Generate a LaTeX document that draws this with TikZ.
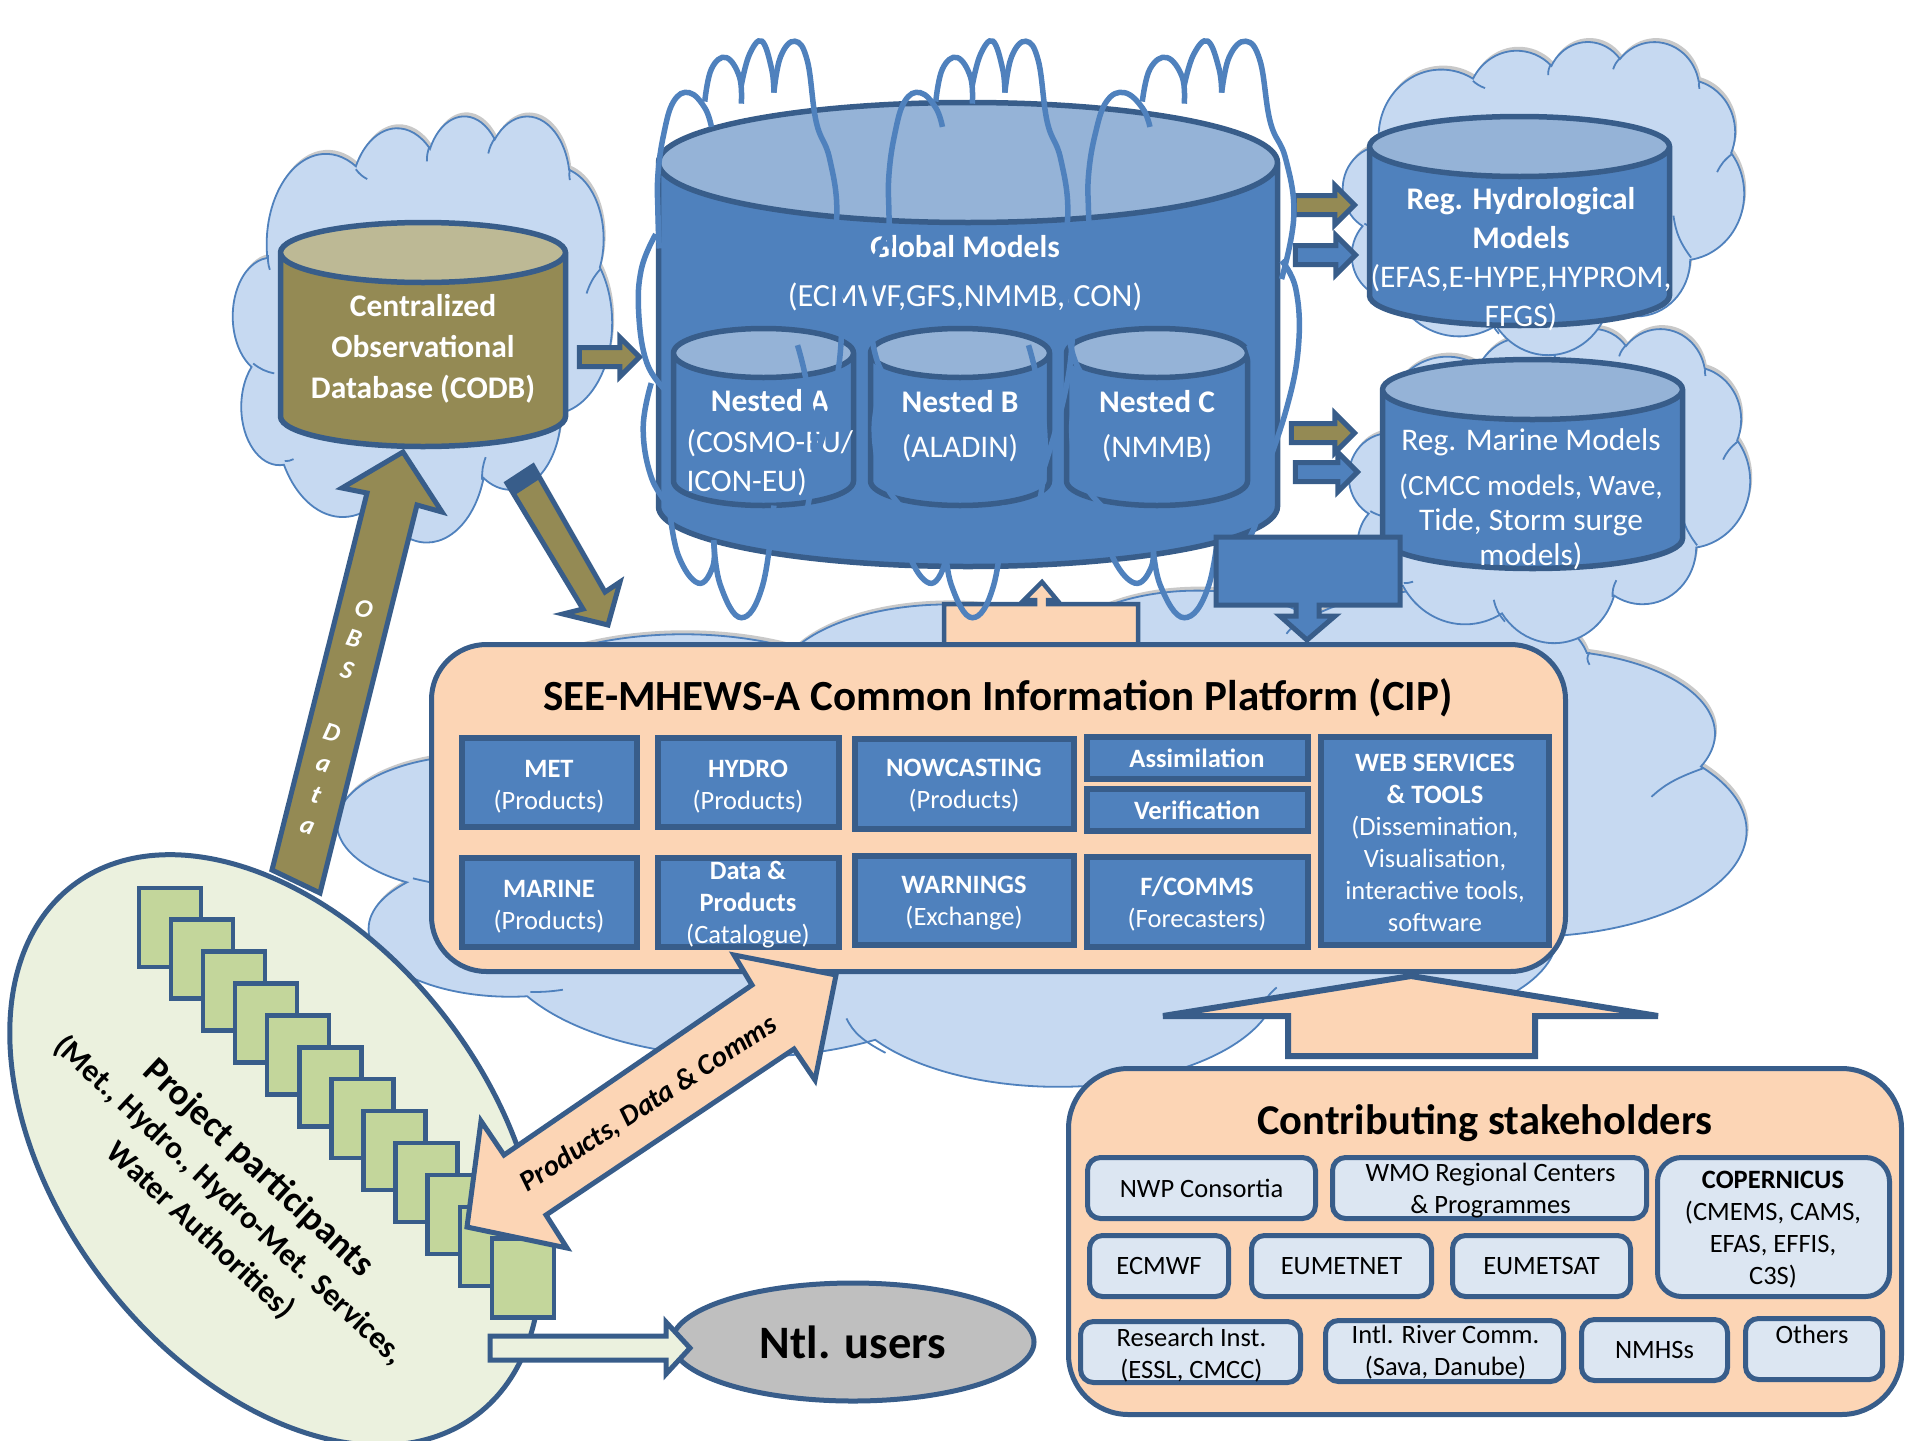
\documentclass[tikz,border=0pt]{standalone}
\usepackage{fontspec}
\setmainfont{Carlito}
\usetikzlibrary{positioning,shapes.geometric,shapes.arrows,shadows}

\definecolor{blueF}{HTML}{4F81BD}
\definecolor{blueL}{HTML}{385D8A}
\definecolor{blueT}{HTML}{95B3D7}
\definecolor{oliveF}{HTML}{948A54}
\definecolor{oliveT}{HTML}{BDB995}
\definecolor{cloudF}{HTML}{C6D9F1}
\definecolor{peachF}{HTML}{FCD5B5}
\definecolor{paleF}{HTML}{DCE6F2}
\definecolor{leafF}{HTML}{C3D69B}
\definecolor{paleG}{HTML}{EBF1DE}
\definecolor{greyF}{HTML}{BFBFBF}

\tikzset{
	cloudfill/.style={fill=cloudF,draw=blueF,line width=1.8pt,
		drop shadow={shadow xshift=2pt,shadow yshift=4pt,opacity=.3,fill=black!70}},
	crease/.style={draw=blueF,line width=1.8pt},
	dbcyl/.style={cylinder,shape border rotate=90,anchor=shape center,draw=blueL,line width=5.5pt,inner sep=10pt,
		cylinder uses custom fill,cylinder body fill=blueF,cylinder end fill=blueT},
	dbtext/.style={text=white,align=center,inner sep=0pt,font=\fontsize{31.5}{39}\selectfont},
	coilline/.style={draw=blueF,line width=5.5pt},
	blockarrow/.style={draw=blueL,line width=5pt,line join=miter,miter limit=10},
	smallarrow/.style={single arrow,draw=blueL,line width=5pt,inner sep=7pt,minimum width=34pt,
		single arrow head extend=10pt,anchor=tip},
	platform/.style={rectangle,rounded corners=#1,draw=blueL,line width=5pt,fill=peachF,inner sep=0pt},
	prodbox/.style={rectangle,draw=blueL,line width=6pt,fill=blueF,text=white,align=center,inner sep=0pt,
		font=\fontsize{26.5}{32}\selectfont},
	prodtext/.style={text=white,align=center,inner sep=0pt,font=\fontsize{26.5}{32}\selectfont},
	partybox/.style={rectangle,rounded corners=13pt,draw=blueL,line width=5pt,fill=paleF,align=center,inner sep=0pt,
		font=\fontsize{26.5}{32}\selectfont},
	partytext/.style={align=center,inner sep=0pt,font=\fontsize{26.5}{32}\selectfont},
	leaf/.style={rectangle,draw=blueL,line width=4.5pt,fill=leafF,minimum width=62pt,minimum height=79pt,anchor=north west}
}

% Pushes a block of lines down in its box
\newcommand{\pushdown}[1]{\rule{0pt}{#1pt}}

% Cloud outline in a 432 x 432 box: name, left, top, width, height
\newcommand{\cloudat}[5]{
	\begin{scope}[shift={(#2,#3)},xscale=#4/432,yscale=-#5/432]
		\path[cloudfill] (39pt,143.7pt)
			\foreach \rx/\ry/\sa/\da in {67.53/91.90/-190.49/123.78,53.33/72.67/-144.10/89.95,
				43.65/59.45/-145.81/99.72,48.57/65.95/-130.99/117.24,53.33/72.73/-78.71/109.03,
				67.75/92.20/-46.27/130.27,57.85/78.67/0.625/114.03,67.52/92.15/22.45/115.17,
				77.20/105.43/66.24/75.71,43.60/59.18/-274.94/146.74,43.45/59.45/-246.83/152.52}{
				arc[x radius=\rx pt,y radius=\ry pt,
					start angle={atan2(\rx*sin(\sa),\ry*cos(\sa))},
					delta angle={mod(atan2(\rx*sin(\sa+\da),\ry*cos(\sa+\da))-atan2(\rx*sin(\sa),\ry*cos(\sa))+720,360)}]
			} -- cycle;
		% Draw creases
		\foreach \ax/\ay/\bx/\by in {23/252/47/262,59/351/69/349,156/374/168/404,288/347/284/370,
			356/241/375/299,419/156/403/181,384/55/384/66,299/23/291/39,224/32/221/47,140/55/153/65,40/142/42/157}{
			\draw[crease] (\ax pt,\ay pt) to[bend left=12] (\bx pt,\by pt);
		}
		\coordinate (#1) at (216pt,216pt);
	\end{scope}
}

\begin{document}
\begin{tikzpicture}[x=1pt,y=-1pt]
	\useasboundingbox (0,0) rectangle (1905,1440);
	% Draw clouds
	\cloudat{cloudCip}{338}{589}{1408}{496}
	\cloudat{cloudCodb}{233}{115}{379}{426}
	\cloudat{cloudMarine}{1349}{328}{401}{314}
	\cloudat{cloudHydro}{1343}{41}{401}{313}

	% Draw observation arrow
	\draw[blockarrow,fill=oliveF] (403,452) -- (442,512) -- (417,505) -- (320,893) -- (272,870) -- (367,493) -- (342,488) -- cycle;
	\foreach \c/\x/\y in {O/364/609,B/354/639,S/347/670,D/332/733,a/323/765,t/316/795,a/307/827}{
		\node[text=white,inner sep=0pt,rotate=-17,font=\fontsize{26}{26}\selectfont\bfseries\itshape] at (\x,\y) {\c};
	}

	% Draw database cylinders
	\node[dbcyl,cylinder body fill=oliveF,cylinder end fill=oliveT,minimum width=285pt,minimum height=224pt,shape aspect=3] (codb) at (423,334.5) {};
	\node[dbcyl,minimum width=619pt,minimum height=464pt,shape aspect=6] (global) at (968,334.5) {};
	\node[dbtext] (codbText) at (423,349) {\textbf{Centralized}\\[2pt]\textbf{Observational}\\[2pt]\textbf{Database (CODB)}};
	\node[dbtext] (globalText) at (965,273) {\textbf{Global Models}\\[10pt]{\fontsize{32.3}{39}\selectfont (ECMWF,GFS,NMMB,ICON)}};
	\node[dbcyl,minimum width=180pt,minimum height=177pt,shape aspect=2.45] (nestA) at (763.5,417) {};
	\node[dbcyl,minimum width=179pt,minimum height=177pt,shape aspect=2.45] (nestB) at (960,417) {};
	\node[dbcyl,minimum width=181pt,minimum height=177pt,shape aspect=2.45] (nestC) at (1157,417) {};
	\node[dbcyl,minimum width=300pt,minimum height=209pt,shape aspect=3] (hydro) at (1519.5,221) {};
	\node[dbcyl,minimum width=300pt,minimum height=209pt,shape aspect=3] (marine) at (1532.5,464) {};
	\node[dbtext,align=left] (nestAtext) at (770,443) {\makebox[167pt]{\textbf{Nested A}}\\[2pt](COSMO-EU/\\ICON-EU)};
	\node[dbtext] (nestBtext) at (960,426) {\textbf{Nested B}\\[6pt](ALADIN)};
	\node[dbtext] (nestCtext) at (1157,426) {\textbf{Nested C}\\[6pt](NMMB)};
	\node[dbtext] (hydroText) at (1521,259) {\textbf{Reg. Hydrological}\\\textbf{Models}\\(EFAS,E-HYPE,HYPROM,\\FFGS)};
	\node[dbtext] (marineText) at (1531,499) {Reg. Marine Models\\[6pt]\fontsize{29.5}{39}\selectfont (CMCC models, Wave,\\[-4pt]Tide, Storm surge\\[-4pt]models)};

	% Draw small arrows
	\node[smallarrow,fill=oliveF,minimum height=60pt] (toGlobal) at (643,357) {};
	\node[smallarrow,fill=oliveF,minimum height=60pt] (toHydroA) at (1358,205) {};
	\node[smallarrow,fill=blueF,minimum height=60pt] (toHydroB) at (1359,255) {};
	\node[smallarrow,fill=oliveF,minimum height=63pt] (toMarineA) at (1358,433) {};
	\node[smallarrow,fill=blueF,minimum height=62pt] (toMarineB) at (1361,472) {};

	% Draw arrow from the database to the platform
	\draw[blockarrow,fill=oliveF] (507,483) -- (533,466) -- (605,592) -- (620,582) -- (608,625) -- (563,614) -- (583,609) -- cycle;
	\fill[blueL] (507,483) -- (533,466) -- (541,478) -- (515,495) -- cycle;

	% Draw small platform arrow
	\draw[blockarrow,line width=4.5pt,fill=peachF] (944,644) -- (944,604) -- (1035,604) -- (1035,600) -- (1024,600) -- (1042,582) -- (1057,600) -- (1048,600) -- (1048,604) -- (1138,604) -- (1138,644);

	% Draw coils
	\foreach \cx/\cw in {620/.446,851/.446,1045/.512}{
		\begin{scope}[shift={(\cx,20)},x=\cw pt,y=-.408pt]
			\draw[coilline] plot[smooth,tension=.7] coordinates {(205,262) (190,215) (155,178) (120,200) (98,280) (85,380) (85,470) (88,560)};
			\draw[coilline] plot[smooth,tension=.7] coordinates {(272,205) (268,140) (238,92) (205,120) (190,200)};
			\draw[coilline] plot[smooth,tension=.7] coordinates {(345,178) (340,120) (318,52) (290,85) (272,160)};
			\draw[coilline] plot[smooth,tension=.7] coordinates {(345,178) (360,90) (392,52) (420,100) (440,250) (470,340) (486,480) (462,635)};
			\draw[coilline] plot[smooth,tension=.7] coordinates {(80,525) (48,610) (42,720) (60,840) (100,905)};
			\draw[coilline] plot[smooth,tension=.7] coordinates {(70,890) (52,1000) (70,1120) (110,1190)};
			\draw[coilline] plot[smooth,tension=.7] coordinates {(110,1190) (130,1310) (175,1380) (208,1340) (210,1275)};
			\draw[coilline] plot[smooth,tension=.7] coordinates {(210,1275) (225,1385) (272,1465) (320,1385) (345,1190)};
			\draw[coilline] plot[smooth,tension=.7] coordinates {(345,1262) (370,1290) (410,1240) (435,1060) (420,900) (398,797)};
			\draw[coilline] plot[smooth,tension=.7] coordinates {(462,590) (490,660) (495,800) (470,960) (420,1140)};
		\end{scope}
	}

	% Draw blue down arrow
	\draw[blockarrow,fill=blueF] (1216,537) -- (1400,537) -- (1400,605) -- (1319,605) -- (1319,616) -- (1335,616) -- (1307,640) -- (1280,616) -- (1296,616) -- (1296,605) -- (1216,605) -- cycle;

	% Draw platform
	\node[platform=55pt,minimum width=1134pt,minimum height=327pt] (cip) at (998.5,808) {};
	\node[font=\fontsize{43}{43}\selectfont\bfseries,inner sep=0pt] (cipTitle) at (998,698) {SEE-MHEWS-A Common Information Platform (CIP)};
	\node[prodbox,minimum width=175pt,minimum height=89pt] (met) at (549,782) {\pushdown{27}\textbf{MET}\\(Products)};
	\node[prodbox,minimum width=181pt,minimum height=89pt] (hydroP) at (748,782) {\pushdown{27}\textbf{HYDRO}\\(Products)};
	\node[prodbox,minimum width=219pt,minimum height=90pt] (nowcast) at (964,783.5) {\pushdown{22}\textbf{NOWCASTING}\\(Products)};
	\node[prodbox,minimum width=221pt,minimum height=42pt] (assim) at (1197,758) {\textbf{Assimilation}};
	\node[prodbox,minimum width=221pt,minimum height=42pt] (verif) at (1197,810) {\textbf{Verification}};
	\node[prodbox,minimum width=228pt,minimum height=208pt] (web) at (1435,841) {\pushdown{22}\textbf{WEB SERVICES}\\\textbf{\& TOOLS}\\(Dissemination,\\Visualisation,\\interactive tools,\\software};
	\node[prodbox,minimum width=175pt,minimum height=89pt] (marineP) at (549,902) {\pushdown{26}\textbf{MARINE}\\(Products)};
	\node[prodbox,minimum width=181pt,minimum height=89pt] (dataP) at (748,902) {};
	\node[prodtext] (dataText) at (748,905) {\textbf{Data \&}\\\textbf{Products}\\(Catalogue)};
	\node[prodbox,minimum width=219pt,minimum height=89pt] (warn) at (964,900) {\pushdown{24}\textbf{WARNINGS}\\(Exchange)};
	\node[prodbox,minimum width=221pt,minimum height=90pt] (fcomms) at (1197,902) {\pushdown{23}\textbf{F/COMMS}\\(Forecasters)};

	% Draw big up arrow
	\draw[blockarrow,line width=6pt,fill=peachF] (1411,976) -- (1658,1016) -- (1535,1016) -- (1535,1056) -- (1288,1056) -- (1288,1016) -- (1163,1016) -- cycle;

	% Draw stakeholders
	\node[platform=60pt,minimum width=833pt,minimum height=346pt] (stake) at (1485,1241.5) {};
	\node[font=\fontsize{42.5}{42.5}\selectfont\bfseries,inner sep=0pt] (stakeTitle) at (1485,1123) {Contributing stakeholders};
	\node[partybox,minimum width=228pt,minimum height=61pt] (nwp) at (1201.5,1188) {NWP Consortia};
	\node[partybox,minimum width=314pt,minimum height=61pt] (wmo) at (1489.5,1188) {};
	\node[partytext] (wmoText) at (1490.5,1191) {WMO Regional Centers\\\& Programmes};
	\node[partybox,rounded corners=24pt,minimum width=232pt,minimum height=139pt] (copern) at (1773.5,1227) {};
	\node[partytext] (copernText) at (1773,1230) {\textbf{COPERNICUS}\\(CMEMS, CAMS,\\EFAS, EFFIS,\\C3S)};
	\node[partybox,minimum width=139pt,minimum height=61pt] (ecmwf) at (1159,1266) {ECMWF};
	\node[partybox,minimum width=180pt,minimum height=61pt] (eumetnet) at (1341.5,1266) {EUMETNET};
	\node[partybox,minimum width=178pt,minimum height=61pt] (eumetsat) at (1541.5,1266) {EUMETSAT};
	\node[partybox,minimum width=220pt,minimum height=61pt] (research) at (1190.5,1352) {};
	\node[partytext] (researchText) at (1191.5,1355) {Research Inst.\\(ESSL, CMCC)};
	\node[partybox,minimum width=238pt,minimum height=61pt] (river) at (1444.5,1351) {};
	\node[partytext] (riverText) at (1445.5,1352) {Intl. River Comm.\\(Sava, Danube)};
	\node[partybox,minimum width=146pt,minimum height=61pt] (nmhs) at (1654.5,1350) {NMHSs};
	\node[partybox,minimum width=137pt,minimum height=61pt] (others) at (1814,1349) {};
	\node[partytext] (othersText) at (1812,1334) {Others};

	% Draw participants
	\node[ellipse,draw=blueL,line width=5pt,fill=paleG,minimum width=666pt,minimum height=432pt,rotate=-52.6,inner sep=0pt] (part) at (275,1150) {};
	\foreach \i in {0,...,11}{
		\node[leaf] (leaf\i) at ({136.5+32.1*\i},{885.5+31.9*\i}) {};
	}
	\node[rotate=-43,align=center,inner sep=0pt,font=\fontsize{31.5}{42}\selectfont\bfseries] (partText) at (230,1199) {{\fontsize{37}{42}\selectfont Project participants}\\(Met., Hydro., Hydro-Met. Services,\\Water Authorities)};

	% Draw exchange arrow
	\draw[blockarrow,fill=peachF] (546,1215) -- (567,1248) -- (467,1227) -- (481,1121) -- (504,1155) -- (752,985) -- (734,955) -- (836,975) -- (815,1080) -- (794,1049) -- cycle;
	\node[rotate=33,inner sep=0pt,font=\fontsize{29}{29}\selectfont\itshape\bfseries] (exchText) at (649,1104) {Products, Data \& Comms};

	% Draw national users
	\node[ellipse,draw=blueL,line width=5pt,fill=greyF,minimum width=362pt,minimum height=118pt,inner sep=0pt,font=\fontsize{46.5}{46.5}\selectfont\bfseries] (users) at (853,1342) {Ntl. users};
	\draw[blockarrow,fill=paleG] (490,1336) -- (666,1336) -- (666,1322) -- (690,1348) -- (666,1374) -- (666,1360) -- (490,1360) -- cycle;
\end{tikzpicture}
\end{document}
